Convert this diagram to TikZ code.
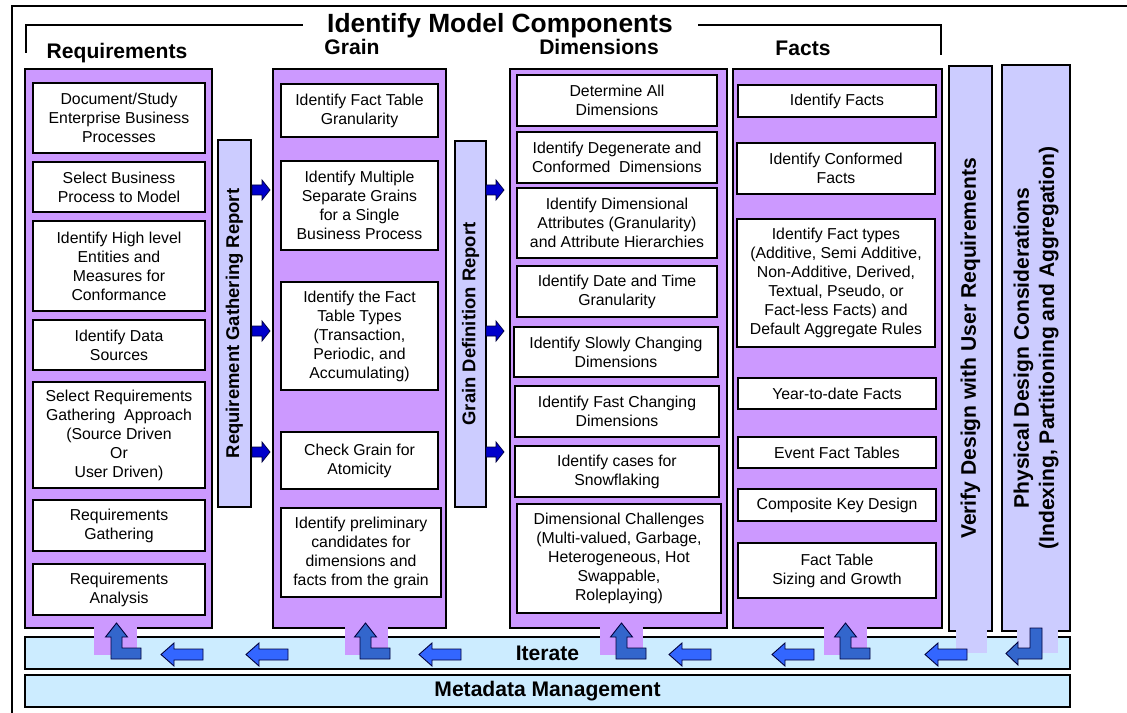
\documentclass[tikz,border=0pt]{standalone}
\usepackage{fontspec}
\setmainfont{Liberation Sans}
\usepackage{tikz}
\usetikzlibrary{positioning}
\definecolor{colpurple}{RGB}{204,153,255}
\definecolor{barlav}{RGB}{204,204,255}
\definecolor{iterblue}{RGB}{204,236,255}
\definecolor{arrowblue}{RGB}{51,102,255}
\definecolor{turnblue}{RGB}{51,102,204}
\definecolor{reportblue}{RGB}{0,0,204}
\definecolor{arrowline}{RGB}{0,0,60}

\begin{document}
\begin{tikzpicture}[x=0.02cm, y=-0.02cm,
    boxsize/.style 2 args={minimum width=#1*0.02cm, minimum height=#2*0.02cm},
    colbox/.style={rectangle, draw=black, line width=1.2pt, fill=colpurple, inner sep=0pt},
    stepbox/.style={rectangle, draw=black, line width=1.1pt, fill=white, inner sep=0pt, align=center, font=\fontsize{9}{10.8}\selectfont},
    reportbar/.style={rectangle, draw=black, line width=1.1pt, fill=barlav, inner sep=0pt},
    bandbox/.style={rectangle, draw=black, line width=1.2pt, fill=iterblue, inner sep=0pt, font=\fontsize{12}{14}\selectfont\bfseries},
    heading/.style={anchor=base, inner sep=0pt, font=\fontsize{12}{14}\selectfont\bfseries},
    barlabel/.style={rotate=90, align=center, font=\fontsize{10.5}{12.6}\selectfont\bfseries},
    sidelabel/.style={rotate=90, align=center, font=\fontsize{12}{14.4}\selectfont\bfseries},
    leftarrow/.style={fill=arrowblue, draw=arrowline, line width=0.5pt},
    turnarrow/.style={fill=turnblue, draw=arrowline, line width=0.5pt},
    reportarrow/.style={fill=reportblue, draw=arrowline, line width=0.4pt}
]
\useasboundingbox (0,0) rectangle (1127,713);

% Frame and title bracket
\draw[line width=0.6pt] (12,713) -- (12,6) -- (1127,6);
\node[heading, font=\fontsize{15}{18}\selectfont\bfseries] (title) at (500,33) {Identify Model Components};
\draw[line width=0.6pt] (26,53) -- (26,25) -- (303,25);
\draw[line width=0.6pt] (698,25) -- (941,25) -- (941,55);

% Column headings
\node[heading] (hreq) at (117,59) {Requirements};
\node[heading] (hgrain) at (352,55) {Grain};
\node[heading] (hdim) at (599,55) {Dimensions};
\node[heading] (hfact) at (803,56) {Facts};

% Columns
\node[colbox, boxsize={187}{559}] (req) at (118.5,348.5) {};
\node[colbox, boxsize={173}{559}] (grain) at (359.5,348.5) {};
\node[colbox, boxsize={217}{559}] (dim) at (618.5,348.5) {};
\node[colbox, boxsize={209}{559}] (fact) at (837.5,348.5) {};

% Requirements steps
\node[stepbox, boxsize={172}{70}] (req1) at (119,118) {Document/Study\\Enterprise Business\\Processes};
\node[stepbox, boxsize={172}{50}] (req2) at (119,187) {Select Business\\Process to Model};
\node[stepbox, boxsize={172}{90}] (req3) at (119,266) {Identify High level\\Entities and\\Measures for\\Conformance};
\node[stepbox, boxsize={172}{50}] (req4) at (119,345) {Identify Data\\Sources};
\node[stepbox, boxsize={172}{106}] (req5) at (119,435) {Select Requirements\\Gathering~~Approach\\(Source Driven\\Or\\User Driven)};
\node[stepbox, boxsize={172}{51}] (req6) at (119,525.5) {Requirements\\Gathering};
\node[stepbox, boxsize={172}{51}] (req7) at (119,589.5) {Requirements\\Analysis};

% Grain steps
\node[stepbox, boxsize={157}{53}] (grain1) at (359.5,110.5) {Identify Fact Table\\Granularity};
\node[stepbox, boxsize={157}{89}] (grain2) at (359.5,205.5) {Identify Multiple\\Separate Grains\\for a Single\\Business Process};
\node[stepbox, boxsize={157}{108}] (grain3) at (359.5,336) {Identify the Fact\\Table Types\\(Transaction,\\Periodic, and\\Accumulating)};
\node[stepbox, boxsize={157}{57}] (grain4) at (359.5,460.5) {Check Grain for\\Atomicity};
\node[stepbox, boxsize={160}{89}] (grain5) at (361,552.5) {Identify preliminary\\candidates for\\dimensions and\\facts from the grain};

% Dimension steps
\node[stepbox, boxsize={200}{51}] (dim1) at (617,100.5) {Determine All\\Dimensions};
\node[stepbox, boxsize={200}{51}] (dim2) at (617,157.5) {Identify Degenerate and\\Conformed~~Dimensions};
\node[stepbox, boxsize={200}{70}] (dim3) at (617,223) {Identify Dimensional\\Attributes (Granularity)\\and Attribute Hierarchies};
\node[stepbox, boxsize={200}{51}] (dim4) at (617,291.5) {Identify Date and Time\\Granularity};
\node[stepbox, boxsize={204}{50}] (dim5) at (616,352) {Identify Slowly Changing\\Dimensions};
\node[stepbox, boxsize={204}{51}] (dim6) at (617,411.5) {Identify Fast Changing\\Dimensions};
\node[stepbox, boxsize={204}{51}] (dim7) at (617,471.5) {Identify cases for\\Snowflaking};
\node[stepbox, boxsize={204}{109}] (dim8) at (619,558.5) {Dimensional Challenges\\(Multi-valued, Garbage,\\Heterogeneous, Hot\\Swappable,\\Roleplaying)};

% Fact steps
\node[stepbox, boxsize={198}{32}] (fact1) at (837,101) {Identify Facts};
\node[stepbox, boxsize={198}{51}] (fact2) at (836,168.5) {Identify Conformed\\Facts};
\node[stepbox, boxsize={198}{128}] (fact3) at (836,283) {Identify Fact types\\(Additive, Semi Additive,\\Non-Additive, Derived,\\Textual, Pseudo, or\\Fact-less Facts) and\\Default Aggregate Rules};
\node[stepbox, boxsize={198}{31}] (fact4) at (837,393.5) {Year-to-date Facts};
\node[stepbox, boxsize={198}{31}] (fact5) at (837,452.5) {Event Fact Tables};
\node[stepbox, boxsize={198}{32}] (fact6) at (837,505) {Composite Key Design};
\node[stepbox, boxsize={198}{55}] (fact7) at (837,570.5) {Fact Table\\Sizing and Growth};

% Report bars
\node[reportbar, boxsize={33}{367}] (rgr) at (234.5,323.5) {};
\node[barlabel] at (rgr.center) {Requirement Gathering Report};
\node[reportbar, boxsize={31}{366}] (gdr) at (470.5,324) {};
\node[barlabel] at (gdr.center) {Grain Definition Report};
\node[reportbar, boxsize={43}{565}] (verify) at (970.5,348.5) {};
\node[sidelabel] at (verify.center) {Verify Design with User Requirements};
\node[reportbar, boxsize={68}{566}] (phys) at (1036,348) {};
\node[sidelabel] at (phys.center) {Physical Design Considerations\\(Indexing, Partitioning and Aggregation)};

% Report arrows
\foreach \bx in {252,486}
  \foreach \y in {190,331,452}
    \filldraw[reportarrow] (\bx,\y-5) -- (\bx+10,\y-5) -- (\bx+10,\y-10) -- (\bx+18,\y)
      -- (\bx+10,\y+10) -- (\bx+10,\y+5) -- (\bx,\y+5) -- cycle;

% Bottom bands
\node[bandbox, boxsize={1045}{32}] (iterate) at (547.5,653) {Iterate};
\node[bandbox, boxsize={1045}{32}] (meta) at (547.5,691) {Metadata Management};

% Tabs into the iterate band
\foreach \x in {94,345,600,824}
  \fill[colpurple] (\x,626) rectangle ++(43,29);
\fill[barlav] (956,630) rectangle (987,653);
\fill[barlav] (1017,630) rectangle (1058,653);

% Iterate arrows
\foreach \x in {161,246,419,669,772,925}
  \filldraw[leftarrow] (\x,654.5) -- ++(13,-11.5) -- ++(0,6) -- ++(29,0) -- ++(0,11)
    -- ++(-29,0) -- ++(0,6) -- cycle;
\foreach \x in {111,360,616,840}
  \filldraw[turnarrow] (\x+5.5,623) -- (\x+16.5,637) -- (\x+11,637) -- (\x+11,648) -- (\x+30,648)
    -- (\x+30,659) -- (\x,659) -- (\x,637) -- (\x-5.5,637) -- cycle;
\filldraw[turnarrow] (1030,628) -- (1042,628) -- (1042,659) -- (1018,659) -- (1018,665)
  -- (1006,653.5) -- (1018,642) -- (1018,648) -- (1030,648) -- cycle;

\end{tikzpicture}
\end{document}
